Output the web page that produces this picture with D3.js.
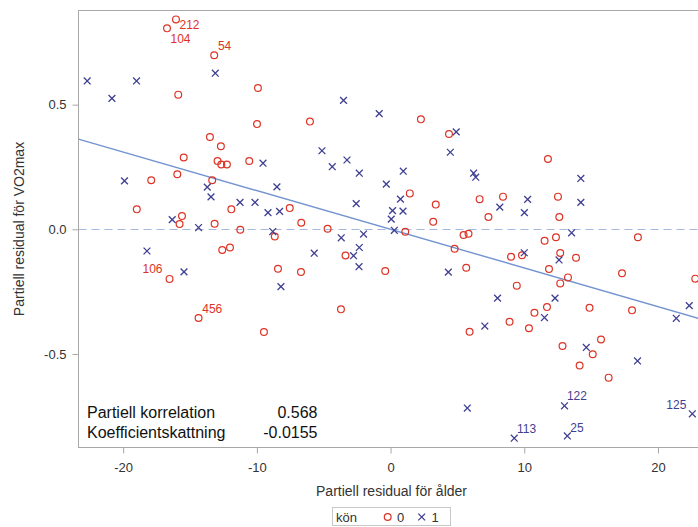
<!DOCTYPE html>
<html>
<head>
<meta charset="utf-8">
<script src="https://cdn.jsdelivr.net/npm/d3@7"></script>
<style>
  html, body { margin: 0; padding: 0; background: #fff; }
  svg { display: block; font-family: "Liberation Sans", Arial, Helvetica, sans-serif; }
</style>
</head>
<body>
<svg id="chart" width="698" height="527"></svg>
<script>
// Partial residuals of VO2max vs. partial residuals of age, grouped by sex (kön)
const kon0 = [
  [-16.05, 0.842], [-16.72, 0.806], [-13.19, 0.698], [-15.88, 0.540], [-9.92, 0.567],
  [-9.99, 0.422], [-6.03, 0.432], [-13.51, 0.370], [-12.69, 0.333], [-15.47, 0.288],
  [-12.94, 0.274], [-12.66, 0.260], [-12.24, 0.260], [-10.57, 0.274], [-15.95, 0.221],
  [-17.90, 0.197], [-13.34, 0.197], [-18.98, 0.080], [-11.91, 0.080], [-7.54, 0.085],
  [-15.60, 0.053], [-15.78, 0.021], [-13.16, 0.022], [-11.24, -0.002], [-8.66, -0.029],
  [-6.68, 0.026], [-4.71, 0.002], [-12.59, -0.083], [-12.01, -0.073], [-16.53, -0.199],
  [-8.42, -0.158], [-6.70, -0.171], [-14.36, -0.356], [-9.47, -0.412], [2.27, 0.441],
  [4.37, 0.382], [11.77, 0.282], [1.44, 0.144], [3.38, 0.099], [6.66, 0.121],
  [8.41, 0.131], [12.52, 0.131], [12.62, 0.049], [7.32, 0.049], [3.19, 0.030],
  [1.10, -0.010], [5.46, -0.023], [5.83, -0.018], [11.52, -0.046], [12.37, -0.032],
  [18.50, -0.032], [4.79, -0.078], [-3.37, -0.105], [9.01, -0.110], [9.83, -0.104],
  [12.69, -0.095], [13.87, -0.114], [-0.40, -0.167], [5.66, -0.154], [11.85, -0.159],
  [17.31, -0.176], [22.79, -0.198], [13.27, -0.193], [12.69, -0.217], [9.44, -0.226],
  [-3.71, -0.321], [14.88, -0.315], [18.06, -0.325], [11.70, -0.312], [10.76, -0.335],
  [8.90, -0.371], [10.35, -0.397], [5.91, -0.411], [12.86, -0.468], [15.74, -0.442],
  [15.12, -0.501], [14.14, -0.546], [16.31, -0.595]
];

const kon1 = [
  [-22.69, 0.595], [-19.00, 0.595], [-20.84, 0.525], [-13.11, 0.626], [-19.90, 0.194],
  [-13.71, 0.169], [-13.43, 0.130], [-8.50, 0.170], [-9.54, 0.265], [-11.26, 0.108],
  [-10.14, 0.108], [-9.17, 0.067], [-8.30, 0.072], [-16.33, 0.039], [-14.36, 0.007],
  [-8.81, -0.009], [-18.22, -0.087], [-5.71, -0.096], [-15.45, -0.171], [-8.20, -0.230],
  [-5.13, 0.315], [-3.52, 0.517], [-0.85, 0.464], [4.91, 0.391], [4.47, 0.309],
  [-4.36, 0.251], [-3.26, 0.278], [-2.34, 0.225], [0.95, 0.233], [6.21, 0.225],
  [6.37, 0.209], [14.23, 0.204], [-0.32, 0.181], [-2.57, 0.103], [0.74, 0.121],
  [10.25, 0.120], [8.17, 0.089], [10.01, 0.067], [14.23, 0.108], [0.15, 0.075],
  [0.93, 0.073], [0.05, 0.041], [0.28, -0.004], [-3.69, -0.034], [-2.02, -0.019],
  [13.54, -0.014], [-2.34, -0.073], [-2.77, -0.106], [10.00, -0.094], [12.60, -0.123],
  [-2.36, -0.150], [4.32, -0.172], [8.00, -0.276], [12.30, -0.276], [22.34, -0.306],
  [21.37, -0.357], [11.51, -0.354], [7.05, -0.388], [14.64, -0.474], [18.47, -0.528],
  [5.74, -0.717], [13.01, -0.708], [22.57, -0.740], [9.25, -0.838], [13.22, -0.829]
];

// Observation numbers shown next to influential points: [label, group, index in group]
const obsLabels = [
  ["212", 0, 0], ["104", 0, 1], ["54", 0, 2], ["106", 0, 29], ["456", 0, 32],
  ["122", 1, 61], ["125", 1, 62], ["113", 1, 63], ["25", 1, 64]
];

const xTicks = [-20, -10, 0, 10, 20];
const yTicks = [-0.5, 0.0, 0.5];

const statNames = ["Partiell korrelation", "Koefficientskattning"];
const statValues = ["0.568", "-0.0155"];
const coefEstimate = +statValues[1];

const legendTitle = "kön";
const groupNames = ["0", "1"];

// ---- layout ----
const svg = d3.select("#chart");
const L = 78.5, R = 704.5, T = 10.5, B = 447.5;
const x = d3.scaleLinear().domain([-23.34, 23.48]).range([L, R]);
const y = d3.scaleLinear().domain([-0.8752, 0.8776]).range([B, T]);

const frameColor = "#a8a8a8";
const textColor = "#333333";
const red = "#dd3325";
const blue = "#3f3f92";

// zero reference line
svg.append("line")
  .attr("x1", L).attr("x2", R)
  .attr("y1", Math.round(y(0)) + 0.5).attr("y2", Math.round(y(0)) + 0.5)
  .attr("stroke", "#a6b8de").attr("stroke-width", 1.1)
  .attr("stroke-dasharray", "8,5");

// fitted line through the origin, slope = coefficient estimate
const xd = x.domain();
svg.append("line")
  .attr("x1", x(xd[0])).attr("y1", y(coefEstimate * xd[0]))
  .attr("x2", x(xd[1])).attr("y2", y(coefEstimate * xd[1]))
  .attr("stroke", "#7393d0").attr("stroke-width", 1.4);

// markers
svg.append("g").selectAll("circle").data(kon0).join("circle")
  .attr("cx", d => x(d[0])).attr("cy", d => y(d[1]))
  .attr("r", 3.4).attr("fill", "none").attr("stroke", red).attr("stroke-width", 1.2);

const s = 3.4;
const crossPath = (cx, cy) => `M${cx - s},${cy - s}L${cx + s},${cy + s}M${cx - s},${cy + s}L${cx + s},${cy - s}`;
svg.append("g").selectAll("path").data(kon1).join("path")
  .attr("d", d => crossPath(x(d[0]), y(d[1])))
  .attr("fill", "none").attr("stroke", blue).attr("stroke-width", 1.3);

// observation labels: [dx, dy, anchor] relative to the marker centre
const labelPlace = {
  "212": [3.5, 9.7, "start"], "104": [3.5, 14.2, "start"], "54": [3.7, -5.3, "start"],
  "106": [-7, -5.7, "end"], "456": [3.7, -5.3, "start"], "122": [2.4, -5.7, "start"],
  "125": [-6, -4.7, "end"], "113": [2.7, -5.6, "start"], "25": [3, -4.3, "start"]
};
const groups = [kon0, kon1];
svg.append("g").selectAll("text").data(obsLabels).join("text")
  .attr("x", d => x(groups[d[1]][d[2]][0]) + labelPlace[d[0]][0])
  .attr("y", d => y(groups[d[1]][d[2]][1]) + labelPlace[d[0]][1])
  .attr("text-anchor", d => labelPlace[d[0]][2])
  .attr("font-size", 12)
  .attr("fill", d => d[1] === 0 ? red : blue)
  .text(d => d[0]);

// axes
const xAxis = svg.append("g").attr("transform", `translate(0,${B})`)
  .call(d3.axisBottom(x).tickValues(xTicks).tickFormat(d => String(d)).tickSize(6).tickPadding(9.5));
const yAxis = svg.append("g").attr("transform", `translate(${L},0)`)
  .call(d3.axisLeft(y).tickValues(yTicks).tickFormat(d => d.toFixed(1)).tickSize(6).tickPadding(6));
[xAxis, yAxis].forEach(g => {
  g.select(".domain").remove();
  g.selectAll(".tick line").attr("stroke", frameColor);
  g.selectAll(".tick text").attr("fill", textColor).attr("font-size", 13)
    .attr("font-family", "'Liberation Sans', Arial, sans-serif");
});

// frame
svg.append("rect")
  .attr("x", L).attr("y", T).attr("width", R - L).attr("height", B - T)
  .attr("fill", "none").attr("stroke", frameColor).attr("stroke-width", 1);

// axis titles
svg.append("text")
  .attr("x", (L + R) / 2).attr("y", 496)
  .attr("text-anchor", "middle").attr("font-size", 14).attr("fill", textColor)
  .text("Partiell residual för ålder");
svg.append("text")
  .attr("transform", `translate(24,${(T + B) / 2}) rotate(-90)`)
  .attr("text-anchor", "middle").attr("font-size", 14).attr("fill", textColor)
  .text("Partiell residual för VO2max");

// statistics inset
const inset = svg.append("g");
statNames.forEach((name, i) => {
  inset.append("text").attr("x", 87).attr("y", 417.7 + i * 20)
    .attr("font-size", 16).attr("fill", "#111").text(name);
  inset.append("text").attr("x", 317.5).attr("y", 417.7 + i * 20)
    .attr("text-anchor", "end").attr("font-size", 16).attr("fill", "#111").text(statValues[i]);
});

// legend
const lg = svg.append("g");
lg.append("rect").attr("x", 332.5).attr("y", 507.5).attr("width", 118).attr("height", 18)
  .attr("fill", "#fff").attr("stroke", "#c8c8c8");
lg.append("text").attr("x", 336).attr("y", 521.5).attr("font-size", 13).attr("fill", textColor).text(legendTitle);
lg.append("circle").attr("cx", 387.7).attr("cy", 517).attr("r", 3.4)
  .attr("fill", "none").attr("stroke", red).attr("stroke-width", 1.2);
lg.append("text").attr("x", 397).attr("y", 521.5).attr("font-size", 13).attr("fill", textColor).text(groupNames[0]);
lg.append("path").attr("d", crossPath(421.7, 517))
  .attr("fill", "none").attr("stroke", blue).attr("stroke-width", 1.3);
lg.append("text").attr("x", 431.5).attr("y", 521.5).attr("font-size", 13).attr("fill", textColor).text(groupNames[1]);
</script>
</body>
</html>
